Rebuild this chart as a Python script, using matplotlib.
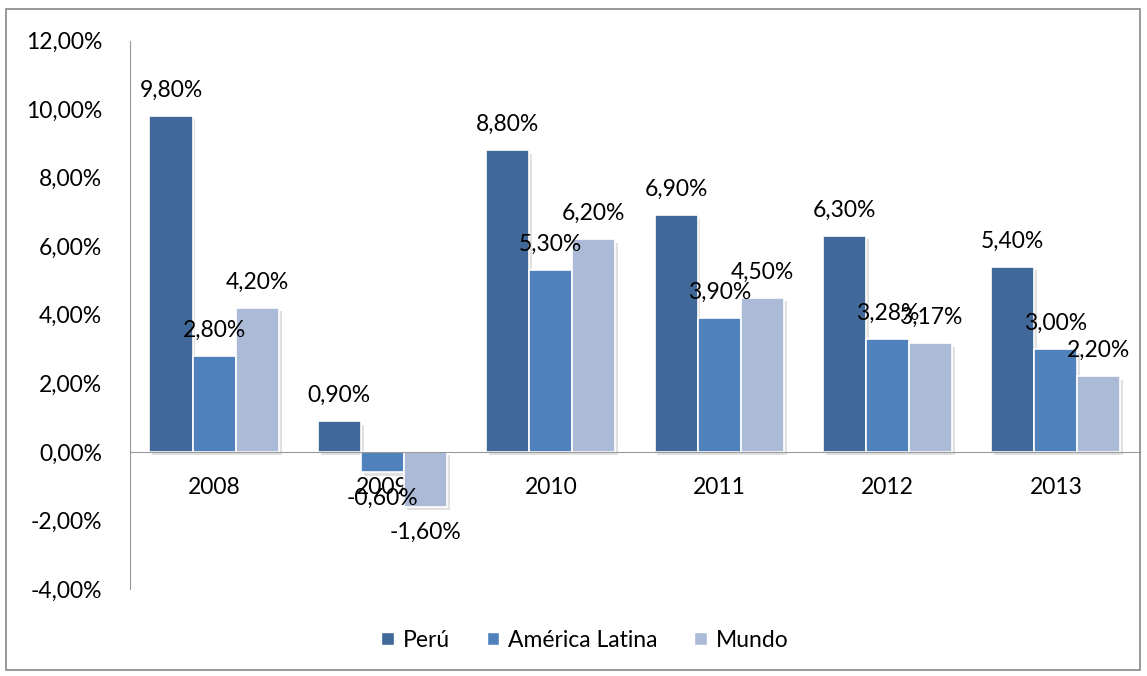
import matplotlib.pyplot as plt
import matplotlib.patheffects as pe
from matplotlib.patches import Rectangle, Patch
import numpy as np

years = ['2008', '2009', '2010', '2011', '2012', '2013']
peru = [9.80, 0.90, 8.80, 6.90, 6.30, 5.40]
america_latina = [2.80, -0.60, 5.30, 3.90, 3.28, 3.00]
mundo = [4.20, -1.60, 6.20, 4.50, 3.17, 2.20]

series = [('Perú', peru, '#406999'),
          ('América Latina', america_latina, '#4F81BD'),
          ('Mundo', mundo, '#AABAD7')]

plt.rcParams['font.family'] = ['Lato', 'DejaVu Sans']
fs = 16.5

fig = plt.figure(figsize=(11.47, 6.76), dpi=100)
ax = fig.add_axes([0.1133, 0.1287, 0.8806, 0.8113])

x = np.arange(len(years))
w = 0.256
shadow = [pe.SimplePatchShadow(offset=(2, -2.5), shadow_rgbFace='#777777', alpha=0.22), pe.Normal()]

def fmt(v):
    return ('%.2f%%' % v).replace('.', ',')

handles = []
for i, (name, vals, col) in enumerate(series):
    pos = x + (i - 1) * w
    bars = ax.bar(pos, vals, w, color=col, edgecolor='white', linewidth=1.2, zorder=3)
    for b in bars:
        b.set_path_effects(shadow)
    handles.append(Patch(facecolor=col, edgecolor='white', label=name))
    for p, v in zip(pos, vals):
        if v >= 0:
            ax.annotate(fmt(v), (p, v), xytext=(0, 11), textcoords='offset points',
                        ha='center', va='bottom', fontsize=fs, zorder=5)
        else:
            ax.annotate(fmt(v), (p, v), xytext=(0, -11), textcoords='offset points',
                        ha='center', va='top', fontsize=fs, zorder=5)

for s in ['top', 'right']:
    ax.spines[s].set_visible(False)
ax.spines['bottom'].set_position(('data', 0))
ax.spines['bottom'].set_color('#999999')
ax.spines['left'].set_color('#999999')
ax.spines['bottom'].set_zorder(4)

ax.set_xlim(-0.5, len(years) - 0.5)
ax.set_ylim(-4, 12)
ax.set_yticks(np.arange(-4, 13, 2))
ax.set_yticklabels([fmt(v) for v in np.arange(-4, 13, 2)], fontsize=fs)
ax.set_xticks(x)
ax.set_xticklabels(years, fontsize=fs)
ax.tick_params(axis='both', length=0)
ax.tick_params(axis='x', pad=18)
ax.tick_params(axis='y', pad=20)

fig.legend(handles=handles, loc='center', bbox_to_anchor=(0.51, 0.053), ncol=3, frameon=False,
           fontsize=fs, handlelength=0.55, handleheight=0.55, handletextpad=0.4,
           columnspacing=1.6)

fig.patches.append(Rectangle((6 / 1147, 6 / 676), 1134 / 1147, 661 / 676, transform=fig.transFigure,
                             fill=False, edgecolor='#888888', linewidth=1.2))

fig.savefig('out.png', dpi=100)
